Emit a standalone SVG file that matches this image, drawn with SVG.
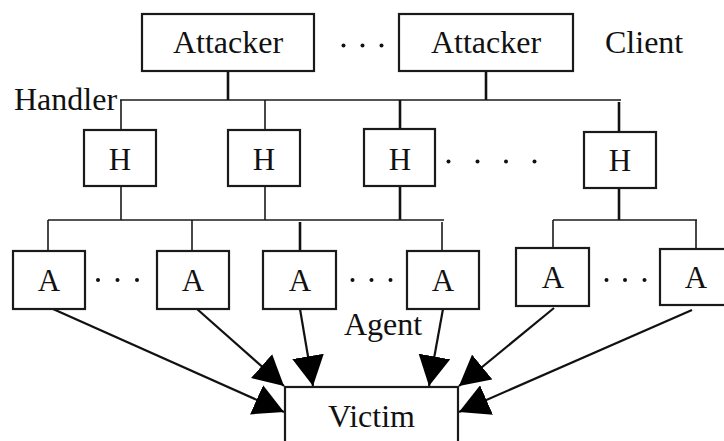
<svg xmlns="http://www.w3.org/2000/svg" width="724" height="441" viewBox="0 0 724 441">
<style>
.box{fill:#fff;stroke:#1a1a1a;stroke-width:2.2}
.t{font-family:"Liberation Serif","Times New Roman",serif;font-size:32px;fill:#111}
.l{font-family:"Liberation Serif","Times New Roman",serif;font-size:31px;fill:#111;text-anchor:middle}
.c{text-anchor:middle}
.w{stroke:#1a1a1a;stroke-width:1.6;fill:none}
.k{stroke:#111;stroke-width:2.6;fill:none}
.a{stroke:#111;stroke-width:2.2;fill:none;marker-end:url(#ah)}
.d{fill:#111}
</style>
<defs>
<marker id="ah" markerUnits="userSpaceOnUse" markerWidth="31" markerHeight="32" refX="30" refY="16" orient="auto" viewBox="0 0 31 32">
<path d="M0,0 L30,16 L0,32 Z" fill="#000"/>
</marker>
</defs>
<rect width="724" height="441" fill="#fff"/>

<g id="connectors">
<line class="k" x1="228" y1="71" x2="228" y2="100"/>
<line class="k" x1="486" y1="71" x2="486" y2="100"/>
<line class="w" x1="120" y1="100" x2="621" y2="100"/>
<line class="w" x1="121" y1="100" x2="121" y2="130"/>
<line class="w" x1="265" y1="100" x2="265" y2="130"/>
<line class="k" x1="400" y1="100" x2="400" y2="129"/>
<line class="k" x1="619" y1="102" x2="619" y2="132"/>
<line class="w" x1="121" y1="186" x2="121" y2="220"/>
<line class="w" x1="265" y1="186" x2="265" y2="220"/>
<line class="k" x1="400" y1="186" x2="400" y2="220"/>
<line class="k" x1="619" y1="188" x2="619" y2="220"/>
<line class="w" x1="48" y1="220" x2="444" y2="220"/>
<line class="w" x1="553" y1="220" x2="697" y2="220"/>
<line class="w" x1="48" y1="220" x2="48" y2="251"/>
<line class="w" x1="192" y1="220" x2="192" y2="251"/>
<line class="k" x1="300" y1="222" x2="300" y2="251"/>
<line class="w" x1="442" y1="222" x2="442" y2="251"/>
<line class="w" x1="553" y1="220" x2="553" y2="248"/>
<line class="w" x1="696" y1="220" x2="696" y2="249"/>
<line class="a" x1="53" y1="309" x2="284" y2="412"/>
<line class="a" x1="197" y1="309" x2="284" y2="386"/>
<line class="a" x1="300" y1="309" x2="313" y2="386"/>
<line class="a" x1="443" y1="309" x2="429" y2="386"/>
<line class="a" x1="554" y1="308" x2="459" y2="386"/>
<line class="a" x1="692" y1="310" x2="459" y2="412"/>
</g>

<g id="attacker1"><rect class="box" x="142" y="14" width="172" height="57"/><text class="t c" x="228" y="53">Attacker</text></g>
<g id="attacker2"><rect class="box" x="399" y="14" width="174" height="57"/><text class="t c" x="486" y="53">Attacker</text></g>
<g id="dots-attackers"><circle class="d" cx="343.5" cy="45.5" r="2"/><circle class="d" cx="362.5" cy="45.5" r="2"/><circle class="d" cx="381.5" cy="45.5" r="2"/></g>
<g id="client-label"><text class="t" x="605" y="53">Client</text></g>
<g id="handler-label"><text class="t" x="14" y="110">Handler</text></g>

<g id="h1"><rect class="box" x="84" y="130" width="72" height="56"/><text class="l" x="120" y="170">H</text></g>
<g id="h2"><rect class="box" x="228" y="130" width="72" height="56"/><text class="l" x="264" y="170">H</text></g>
<g id="h3"><rect class="box" x="364" y="129" width="71" height="57"/><text class="l" x="400" y="170">H</text></g>
<g id="h4"><rect class="box" x="584" y="132" width="72" height="56"/><text class="l" x="620" y="171">H</text></g>
<g id="dots-handlers"><circle class="d" cx="448.5" cy="161.5" r="2"/><circle class="d" cx="477.5" cy="161.5" r="2"/><circle class="d" cx="506" cy="161.5" r="2"/><circle class="d" cx="534.5" cy="161.5" r="2"/></g>

<g id="a1"><rect class="box" x="13" y="251" width="72" height="58"/><text class="l" x="49" y="291">A</text></g>
<g id="a2"><rect class="box" x="157" y="251" width="72" height="58"/><text class="l" x="193" y="291">A</text></g>
<g id="a3"><rect class="box" x="263" y="251" width="73" height="58"/><text class="l" x="300" y="291">A</text></g>
<g id="a4"><rect class="box" x="407" y="251" width="72" height="58"/><text class="l" x="443" y="291">A</text></g>
<g id="a5"><rect class="box" x="516" y="248" width="73" height="58"/><text class="l" x="553" y="288">A</text></g>
<g id="a6"><rect class="box" x="660" y="249" width="72" height="56"/><text class="l" x="696" y="288">A</text></g>
<g id="dots-agents">
<circle class="d" cx="98" cy="280" r="2"/><circle class="d" cx="117.5" cy="280" r="2"/><circle class="d" cx="137" cy="280" r="2"/>
<circle class="d" cx="352.5" cy="280" r="2"/><circle class="d" cx="371.5" cy="280" r="2"/><circle class="d" cx="390.5" cy="280" r="2"/>
<circle class="d" cx="606.5" cy="280" r="2"/><circle class="d" cx="625" cy="280" r="2"/><circle class="d" cx="644.5" cy="280" r="2"/>
</g>
<g id="agent-label"><text class="t" x="344" y="335">Agent</text></g>

<g id="victim"><rect class="box" x="285" y="387" width="173" height="70"/><text class="t c" x="371.5" y="427">Victim</text></g>
</svg>
